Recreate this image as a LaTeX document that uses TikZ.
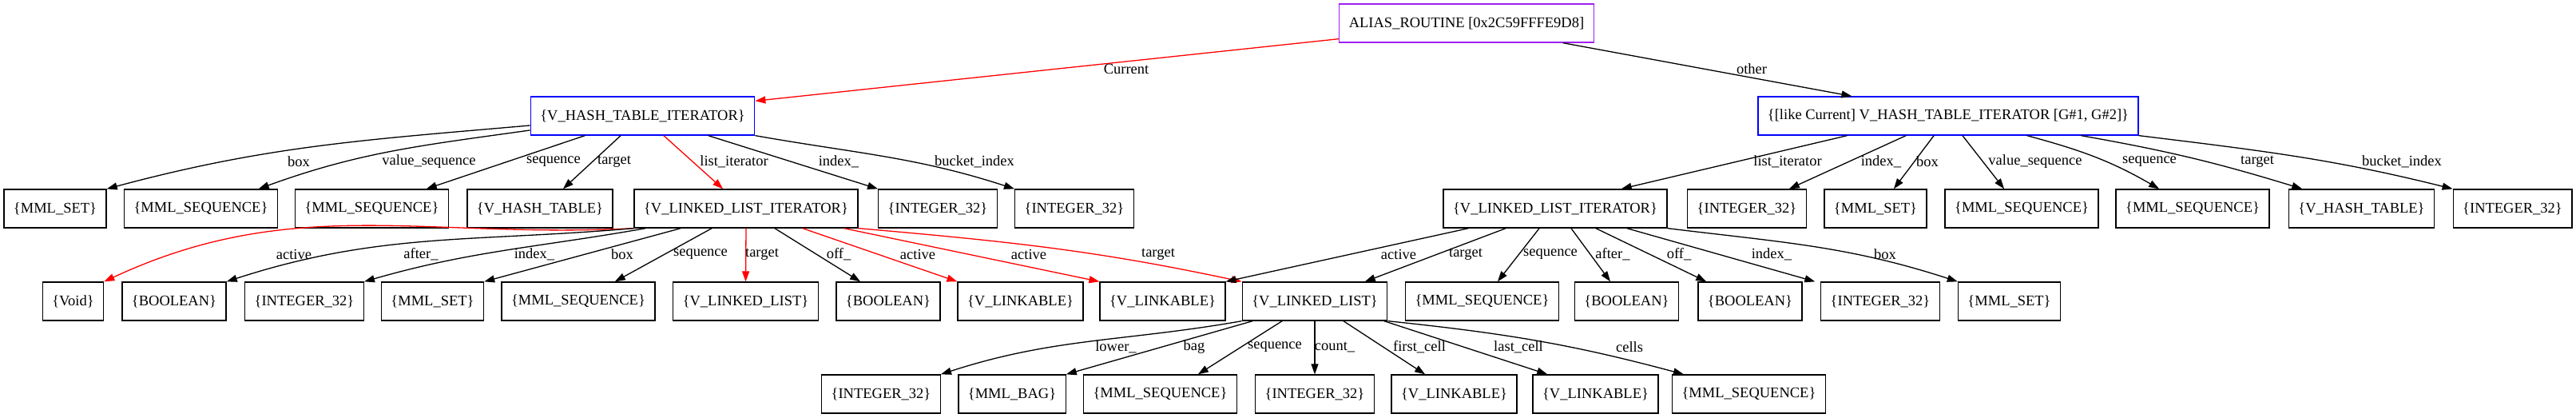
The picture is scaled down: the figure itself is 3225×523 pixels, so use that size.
\documentclass[tikz,border=0pt]{standalone}
\usepackage{fontspec}
\setmainfont{Liberation Serif}
\usepackage{tikz}
\usetikzlibrary{arrows.meta}
\definecolor{aliasline}{HTML}{A020F0}
\definecolor{rootline}{HTML}{0000FF}
\definecolor{hotline}{HTML}{FF0000}

\begin{document}
\begin{tikzpicture}[x=1bp, y=1bp,
  objbox/.style={draw, rectangle, line width=1.3bp, minimum height=48bp, inner xsep=12bp, inner ysep=0pt, font=\fontsize{18.5bp}{22bp}\selectfont},
  rootbox/.style={objbox, draw=rootline},
  aliasbox/.style={objbox, draw=aliasline},
  lbl/.style={inner sep=0pt, font=\fontsize{18.5bp}{22bp}\selectfont},
  field/.style={-{Triangle[length=13bp,width=9bp]}, line width=1.3bp},
  hotfield/.style={field, draw=hotline}
]
\useasboundingbox (0,0) rectangle (3225,-523);

\node[aliasbox] (routine) at (1836,-29) {ALIAS\_ROUTINE [0x2C59FFFE9D8]};
\node[rootbox] (cur) at (804.5,-145) {\{V\_HASH\_TABLE\_ITERATOR\}};
\node[rootbox] (oth) at (2439,-145) {\{[like Current] V\_HASH\_TABLE\_ITERATOR [G\#1, G\#2]\}};

% fields of Current
\node[objbox] (cSet) at (69,-261) {\{MML\_SET\}};
\node[objbox] (cValSeq) at (251.5,-261) {\{MML\_SEQUENCE\}};
\node[objbox] (cSeq) at (465.5,-261) {\{MML\_SEQUENCE\}};
\node[objbox] (cTable) at (676,-261) {\{V\_HASH\_TABLE\}};
\node[objbox] (cList) at (934,-261) {\{V\_LINKED\_LIST\_ITERATOR\}};
\node[objbox] (cIdx) at (1174,-261) {\{INTEGER\_32\}};
\node[objbox] (cBucket) at (1345,-261) {\{INTEGER\_32\}};

% fields of other
\node[objbox] (oList) at (1947,-261) {\{V\_LINKED\_LIST\_ITERATOR\}};
\node[objbox] (oIdx) at (2187,-261) {\{INTEGER\_32\}};
\node[objbox] (oSet) at (2348,-261) {\{MML\_SET\}};
\node[objbox] (oValSeq) at (2531,-261) {\{MML\_SEQUENCE\}};
\node[objbox] (oSeq) at (2745,-261) {\{MML\_SEQUENCE\}};
\node[objbox] (oTable) at (2956.5,-261) {\{V\_HASH\_TABLE\}};
\node[objbox] (oBucket) at (3145.5,-261) {\{INTEGER\_32\}};

% list iterators
\node[objbox] (cVoid) at (91.5,-377) {\{Void\}};
\node[objbox] (cAfter) at (218,-377) {\{BOOLEAN\}};
\node[objbox] (cLIdx) at (381,-377) {\{INTEGER\_32\}};
\node[objbox] (cLBox) at (541.5,-377) {\{MML\_SET\}};
\node[objbox] (cLSeq) at (724,-377) {\{MML\_SEQUENCE\}};
\node[objbox] (cTarget) at (933.5,-377) {\{V\_LINKED\_LIST\}};
\node[objbox] (cOff) at (1112,-377) {\{BOOLEAN\}};
\node[objbox] (cAct) at (1277.5,-377) {\{V\_LINKABLE\}};
\node[objbox] (shared) at (1455.5,-377) {\{V\_LINKABLE\}};
\node[objbox] (list) at (1646,-377) {\{V\_LINKED\_LIST\}};
\node[objbox] (oLSeq) at (1855.5,-377) {\{MML\_SEQUENCE\}};
\node[objbox] (oAfter) at (2036.5,-377) {\{BOOLEAN\}};
\node[objbox] (oOff) at (2191,-377) {\{BOOLEAN\}};
\node[objbox] (oLIdx) at (2354,-377) {\{INTEGER\_32\}};
\node[objbox] (oLBox) at (2515.5,-377) {\{MML\_SET\}};

% linked list
\node[objbox] (lLower) at (1103,-493) {\{INTEGER\_32\}};
\node[objbox] (lBag) at (1267,-493) {\{MML\_BAG\}};
\node[objbox] (lSeq) at (1452.5,-493) {\{MML\_SEQUENCE\}};
\node[objbox] (lCount) at (1646,-493) {\{INTEGER\_32\}};
\node[objbox] (lFirst) at (1820.5,-493) {\{V\_LINKABLE\}};
\node[objbox] (lLast) at (1997.5,-493) {\{V\_LINKABLE\}};
\node[objbox] (lCells) at (2189.5,-493) {\{MML\_SEQUENCE\}};

\draw[hotfield] ([yshift=5]routine.south west) -- ([yshift=-6]cur.north east) node[lbl] at (1410,-86) {Current};
\draw[field] ([xshift=121]routine.south) -- ([xshift=-121]oth.north) node[lbl] at (2193,-86) {other};

\draw[field] ([yshift=-12]cur.west) to[out=185,in=15] (cSet.north east) node[lbl] at (374,-202) {box};
\draw[field] ([yshift=-18]cur.west) to[out=188,in=20] ([xshift=72.5]cValSeq.north) node[lbl] at (537,-202) {value\_sequence};
\draw[field] ([xshift=-72.5]cur.south) -- ([xshift=68.5]cSeq.north) node[lbl] at (693,-202) {sequence};
\draw[field] ([xshift=-27.5]cur.south) -- ([xshift=29]cTable.north) node[lbl] at (769,-202) {target};
\draw[hotfield] ([xshift=26.5]cur.south) -- ([xshift=-29]cList.north) node[lbl] at (919,-202) {list\_iterator};
\draw[field] ([xshift=82.5]cur.south) -- (cIdx.north west) node[lbl] at (1050,-202) {index\_};
\draw[field] (cur.south east) to[out=-10,in=162] (cBucket.north west) node[lbl] at (1220,-202) {bucket\_index};

\draw[field] ([xshift=-127]oth.south) -- ([xshift=83]oList.north) node[lbl] at (2238,-202) {list\_iterator};
\draw[field] ([xshift=-53]oth.south) -- ([xshift=53]oIdx.north) node[lbl] at (2355,-202) {index\_};
\draw[field] ([xshift=-18]oth.south) -- ([xshift=23]oSet.north) node[lbl] at (2413,-202) {box};
\draw[field] ([xshift=18]oth.south) -- ([xshift=-22]oValSeq.north) node[lbl] at (2548,-202) {value\_sequence};
\draw[field] ([xshift=99]oth.south) to[out=-15,in=150] ([xshift=-42]oSeq.north) node[lbl] at (2691,-202) {sequence};
\draw[field] ([xshift=167]oth.south) to[out=-10,in=163] ([xshift=-74.5]oTable.north) node[lbl] at (2826,-202) {target};
\draw[field] (oth.south east) to[out=-7,in=166] (oBucket.north west) node[lbl] at (3007,-202) {bucket\_index};

\draw[hotfield] (cList.south west) to[out=183,in=25] (cVoid.north east) node[lbl] at (368,-318) {active};
\draw[field] (cList.south west) to[out=185,in=18] (cAfter.north east) node[lbl] at (527,-318) {after\_};
\draw[field] ([xshift=15]cList.south west) to[out=190,in=16] (cLIdx.north east) node[lbl] at (669,-318) {index\_};
\draw[field] ([xshift=-82]cList.south) -- (cLBox.north east) node[lbl] at (779,-318) {box};
\draw[field] ([xshift=-43]cList.south) -- ([xshift=46]cLSeq.north) node[lbl] at (877,-318) {sequence};
\draw[hotfield] (cList.south) -- (cTarget.north) node[lbl] at (954,-318) {target};
\draw[field] ([xshift=36]cList.south) -- ([xshift=-35]cOff.north) node[lbl] at (1050,-318) {off\_};
\draw[hotfield] ([xshift=71]cList.south) -- (cAct.north west) node[lbl] at (1149,-318) {active};
\draw[hotfield] ([xshift=123]cList.south) -- (shared.north west) node[lbl] at (1288,-318) {active};
\draw[hotfield] (cList.south east) to[out=-5,in=168] (list.north west) node[lbl] at (1450,-318) {target};

\draw[field] ([xshift=-109]oList.south) -- (shared.north east) node[lbl] at (1751,-318) {active};
\draw[field] ([xshift=-62]oList.south) -- ([xshift=63]list.north) node[lbl] at (1835,-318) {target};
\draw[field] ([xshift=-20]oList.south) -- ([xshift=19.5]oLSeq.north) node[lbl] at (1941,-318) {sequence};
\draw[field] ([xshift=20]oList.south) -- ([xshift=-20.5]oAfter.north) node[lbl] at (2019,-318) {after\_};
\draw[field] ([xshift=51]oList.south) -- ([xshift=-55]oOff.north) node[lbl] at (2102,-318) {off\_};
\draw[field] ([xshift=90]oList.south) -- ([xshift=-82]oLIdx.north) node[lbl] at (2218,-318) {index\_};
\draw[field] (oList.south east) to[out=-7,in=162] (oLBox.north west) node[lbl] at (2360,-318) {box};

\draw[field] (list.south west) to[out=190,in=18] (lLower.north east) node[lbl] at (1397,-434) {lower\_};
\draw[field] ([xshift=-78]list.south) -- (lBag.north east) node[lbl] at (1495,-434) {bag};
\draw[field] ([xshift=-41]list.south) -- ([xshift=47.5]lSeq.north) node[lbl] at (1596,-434) {sequence};
\draw[field] (list.south) -- (lCount.north) node[lbl] at (1671,-434) {count\_};
\draw[field] ([xshift=36]list.south) -- ([xshift=-36.5]lFirst.north) node[lbl] at (1777,-434) {first\_cell};
\draw[field] ([xshift=87]list.south) -- ([xshift=-60.5]lLast.north) node[lbl] at (1901,-434) {last\_cell};
\draw[field] (list.south east) to[out=-6,in=165] ([xshift=15]lCells.north west) node[lbl] at (2040,-434) {cells};
\end{tikzpicture}
\end{document}
